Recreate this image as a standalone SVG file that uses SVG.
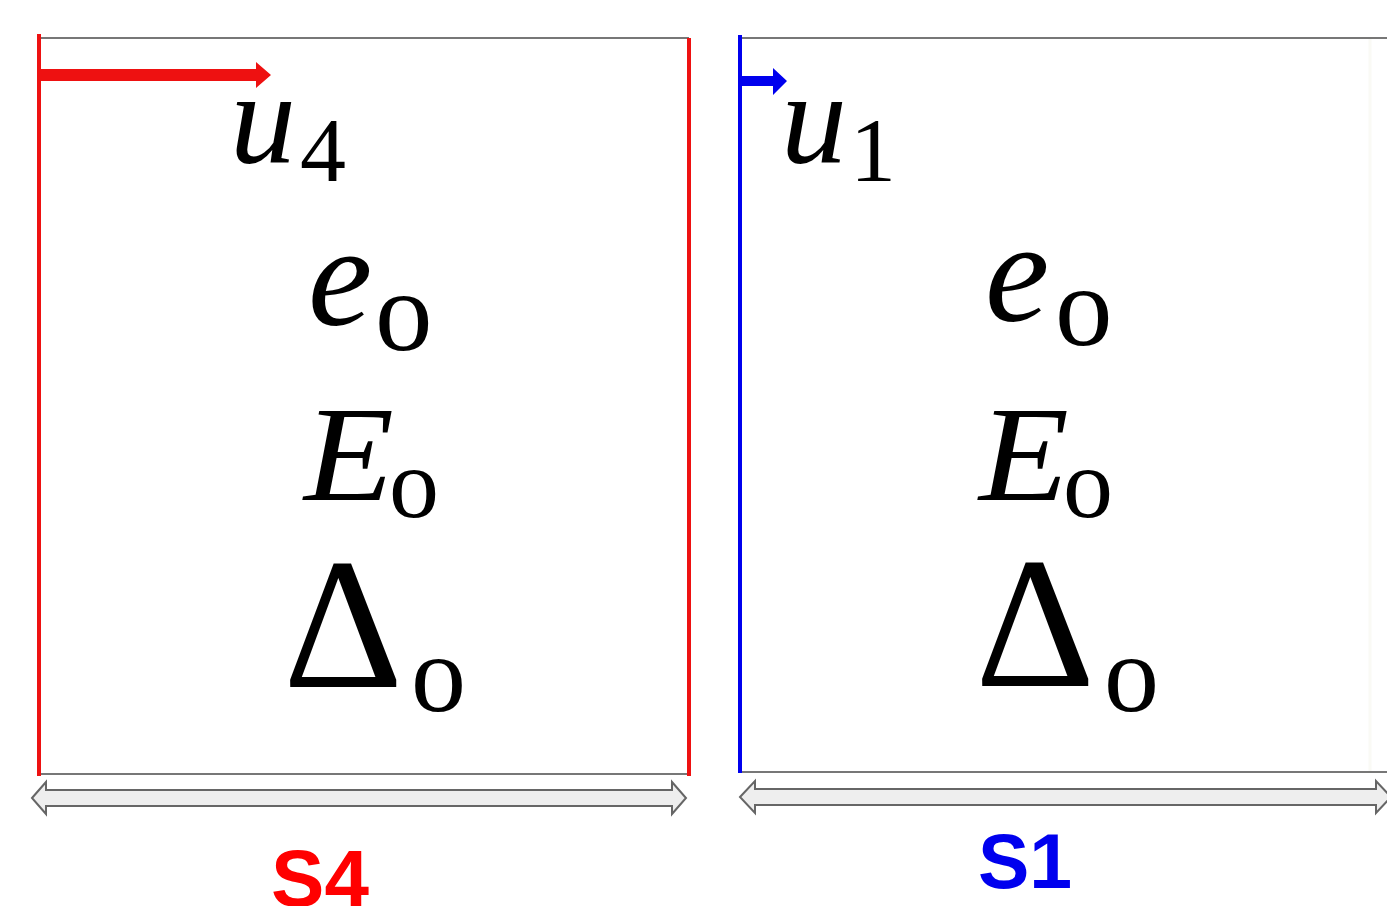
<svg xmlns="http://www.w3.org/2000/svg" width="1387" height="906" viewBox="0 0 1387 906">
<style>
.frame{stroke:#777;stroke-width:2;fill:none}
.dbl{fill:#eeeeee;stroke:#666;stroke-width:2;stroke-linejoin:miter}
.mi{font-family:"Liberation Serif","DejaVu Serif",serif;font-style:italic;fill:#000}
.mr{font-family:"Liberation Serif","DejaVu Serif",serif;fill:#000}
.lbl{font-family:"Liberation Sans",Arial,sans-serif;font-weight:bold;text-anchor:middle}
</style>
<rect width="1387" height="906" fill="#ffffff"/>
<g id="S4">
  <line class="frame" x1="39" y1="38" x2="689" y2="38"/>
  <line class="frame" x1="39" y1="774" x2="689" y2="774"/>
  <line x1="39" y1="34" x2="39" y2="776" stroke="#ee1111" stroke-width="4"/>
  <line x1="689" y1="38" x2="689" y2="776" stroke="#ee1111" stroke-width="4"/>
  <text class="mi" x="230" y="162" font-size="132">u</text>
  <text class="mr" x="300" y="181" font-size="92">4</text>
  <text class="mi" x="308" y="325" font-size="145">e</text>
  <text class="mr" x="375" y="350" font-size="115">o</text>
  <text class="mi" x="304" y="500" font-size="136" textLength="90" lengthAdjust="spacingAndGlyphs">E</text>
  <text class="mr" x="389" y="517" font-size="100">o</text>
  <text class="mr" x="283" y="687" font-size="187">Δ</text>
  <text class="mr" x="411" y="711" font-size="110">o</text>
  <text class="lbl" x="320" y="906" font-size="80" fill="#ff0000">S4</text>
</g>
<g id="S1">
  <line class="frame" x1="740" y1="38" x2="1387" y2="38"/>
  <line class="frame" x1="740" y1="772" x2="1387" y2="772"/>
  <line x1="1370" y1="39" x2="1370" y2="771" stroke="#fafaf5" stroke-width="3"/>
  <line x1="740" y1="35" x2="740" y2="773" stroke="#0000ee" stroke-width="4"/>
  <text class="mi" x="781" y="162" font-size="132">u</text>
  <text class="mr" x="850" y="181" font-size="92">1</text>
  <text class="mi" x="985" y="321" font-size="145">e</text>
  <text class="mr" x="1055" y="345" font-size="115">o</text>
  <text class="mi" x="979" y="500" font-size="136" textLength="90" lengthAdjust="spacingAndGlyphs">E</text>
  <text class="mr" x="1063" y="517" font-size="100">o</text>
  <text class="mr" x="975" y="686" font-size="187">Δ</text>
  <text class="mr" x="1104" y="711" font-size="110">o</text>
  <text class="lbl" x="1025" y="888" font-size="77" fill="#0000ee">S1</text>
</g>
<g id="connectors">
  <polygon fill="#ee1111" points="39,69 256,69 256,62 271,75 256,88 256,81 39,81"/>
  <polygon fill="#0000ee" points="740,76 773,76 773,68 787,81 773,95 773,86 740,86"/>
  <polygon class="dbl" points="32,798 46,782 46,790 672,790 672,782 686,798 672,814 672,806 46,806 46,814"/>
  <polygon class="dbl" points="740,797 755,781 755,789 1376,789 1376,781 1391,797 1376,813 1376,805 755,805 755,813"/>
</g>
</svg>
